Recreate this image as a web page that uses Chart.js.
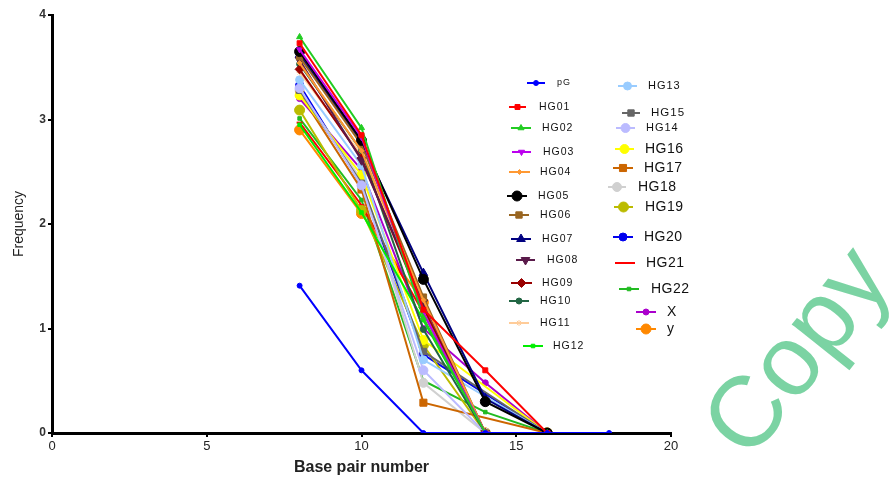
<!DOCTYPE html>
<html>
<head>
<meta charset="utf-8">
<script src="https://cdn.jsdelivr.net/npm/chart.js@4/dist/chart.umd.min.js"></script>
<style>
  html, body { margin: 0; padding: 0; background: #fff; }
  #wrap { width: 891px; height: 477px; position: relative; }
</style>
</head>
<body>
<div id="wrap"><canvas id="freq"></canvas></div>
<script>
//-------------------------------------------------------------------------------------------------------
// Base pair frequency per haplogroup
//-------------------------------------------------------------------------------------------------------
const BP_X = [8, 10, 12, 14, 16];
const PG_X = [8, 10, 12, 14, 16, 18];
const X_TICKS = [0, 5, 10, 15, 20];
const Y_TICKS = [0, 1, 2, 3, 4];

const pG   = [1.41, 0.60, 0, 0, 0, 0];
const HG01 = [3.73, 2.85, 1.18, 0.60, 0];
const HG02 = [3.79, 2.92, 1.10, 0, 0];
const HG03 = [3.67, 2.83, 1.15, 0, 0];
const HG04 = [3.54, 2.70, 1.27, 0, 0];
const HG05 = [3.65, 2.80, 1.47, 0.30, 0];
const HG06 = [3.60, 2.76, 1.30, 0, 0];
const HG07 = [3.62, 2.78, 1.53, 0.33, 0];
const HG08 = [3.57, 2.61, 1.25, 0, 0];
const HG09 = [3.48, 2.63, 1.20, 0, 0];
const HG10 = [3.53, 2.70, 0.99, 0, 0];
const HG11 = [3.45, 2.66, 1.22, 0, 0];
const HG12 = [2.95, 2.11, 1.08, 0, 0];
const HG13 = [3.38, 2.56, 0.70, null, 0];
const HG14 = [3.30, 2.37, 0.60, 0, 0];
const HG15 = [3.28, 2.39, 0.78, null, 0];
const HG16 = [3.23, 2.47, 0.89, null, 0];
const HG17 = [3.25, 2.33, 0.29, null, 0];
const HG18 = [3.28, 2.42, 0.48, 0, 0];
const HG19 = [3.09, 2.13, 0.84, 0, 0];
const HG20 = [3.33, 2.37, 0.75, null, 0];
const HG21 = [2.97, 2.18, 1.15, 0, 0];
const HG22 = [3.01, 2.23, 0.50, 0.20, 0];
const serX = [3.20, 2.52, 1.00, 0.48, 0];
const serY = [2.90, 2.10, 1.25, 0, 0];

/**
 * @name series_list
 * label, values, colour, marker, radius, rotation
 */
const series_list = [
    ['pG',   pG,   '#0000ff', 'circle',   2.5, 0],
    ['HG01', HG01, '#ff0000', 'rect',     3.5, 0],
    ['HG02', HG02, '#22cc22', 'triangle', 3.5, 0],
    ['HG03', HG03, '#bb00ee', 'triangle', 3.5, 180],
    ['HG04', HG04, '#ff9933', 'rectRot',  2.5, 0],
    ['HG05', HG05, '#000000', 'circle',   5,   0],
    ['HG06', HG06, '#996622', 'rect',     4.5, 0],
    ['HG07', HG07, '#000080', 'triangle', 5,   0],
    ['HG08', HG08, '#5a1a4a', 'triangle', 5,   180],
    ['HG09', HG09, '#990000', 'rectRot',  4.5, 0],
    ['HG10', HG10, '#226644', 'circle',   3,   0],
    ['HG11', HG11, '#ffcc99', 'star',     3,   0],
    ['HG12', HG12, '#00ee00', 'rect',     2.5, 0],
    ['HG13', HG13, '#99ccff', 'circle',   4,   0],
    ['HG14', HG14, '#bbbbff', 'circle',   4.5, 0],
    ['HG15', HG15, '#666666', 'rect',     4.5, 0],
    ['HG16', HG16, '#ffff00', 'circle',   4.5, 0],
    ['HG17', HG17, '#cc6600', 'rect',     5,   0],
    ['HG18', HG18, '#d0d0d0', 'circle',   4.5, 0],
    ['HG19', HG19, '#bbbb00', 'circle',   5,   0],
    ['HG20', HG20, '#0000ee', 'circle',   4,   0],
    ['HG21', HG21, '#ff0000', 'line',     3,   0],
    ['HG22', HG22, '#22bb22', 'rect',     2.5, 0],
    ['X',    serX, '#aa00cc', 'circle',   3,   0],
    ['y',    serY, '#ff8800', 'circle',   5,   0]
];

// legend slots: line start, line end, baseline y, text x, font size
const legend_slots = {
    'pG':   [527, 545, 83,  557, 9],
    'HG01': [509, 526, 107, 539, 10.5],
    'HG02': [511, 531, 128, 542, 10.5],
    'HG03': [512, 531, 152, 543, 10.5],
    'HG04': [509, 530, 172, 540, 10.5],
    'HG05': [507, 527, 196, 538, 10.5],
    'HG06': [509, 529, 215, 540, 10.5],
    'HG07': [511, 531, 239, 542, 10.5],
    'HG08': [516, 535, 260, 547, 10.5],
    'HG09': [511, 532, 283, 542, 10.5],
    'HG10': [509, 529, 301, 540, 10.5],
    'HG11': [509, 529, 323, 540, 10.5],
    'HG12': [523, 543, 346, 553, 10.5],
    'HG13': [618, 637, 86,  648, 11],
    'HG15': [622, 640, 113, 651, 11.5],
    'HG14': [616, 635, 128, 646, 11],
    'HG16': [615, 634, 149, 645, 14],
    'HG17': [613, 633, 168, 644, 14],
    'HG18': [608, 626, 187, 638, 14],
    'HG19': [614, 633, 207, 645, 14],
    'HG20': [613, 633, 237, 644, 14],
    'HG21': [615, 635, 263, 646, 14],
    'HG22': [619, 639, 289, 651, 14],
    'X':    [636, 656, 312, 667, 14],
    'y':    [636, 656, 329, 667, 14]
};

const datasets = series_list.map(([label, vals, color, style, r, rot]) => {
    const xs = label === 'pG' ? PG_X : BP_X;
    return {
        label: label,
        data: vals.map((v, i) => ({x: xs[i], y: v})),
        borderColor: color,
        backgroundColor: color,
        pointBackgroundColor: color,
        pointBorderColor: color,
        pointStyle: style,
        pointRadius: r,
        pointRotation: rot,
        pointBorderWidth: style === 'line' ? 2 : 1,
        borderWidth: 2,
        tension: 0,
        fill: false,
        spanGaps: true
    };
});

/*------------------------------------------------------*/
// hand placed legend, two loose columns
/*------------------------------------------------------*/
const looseLegend = {
    id: 'looseLegend',
    afterDraw(chart) {
        const ctx = chart.ctx;
        chart.data.datasets.forEach(ds => {
            const s = legend_slots[ds.label];
            if (!s) return;
            const [x0, x1, y, tx, size] = s;
            ctx.save();
            ctx.strokeStyle = ds.borderColor;
            ctx.lineWidth = 2;
            ctx.beginPath();
            ctx.moveTo(x0, y);
            ctx.lineTo(x1, y);
            ctx.stroke();
            ctx.fillStyle = ds.backgroundColor;
            ctx.strokeStyle = ds.borderColor;
            ctx.lineWidth = ds.pointBorderWidth;
            Chart.helpers.drawPoint(ctx, {
                pointStyle: ds.pointStyle,
                radius: ds.pointRadius,
                rotation: ds.pointRotation,
                borderWidth: ds.pointBorderWidth
            }, (x0 + x1) / 2, y);
            ctx.fillStyle = '#111';
            ctx.font = size + 'px "Liberation Sans", Arial, sans-serif';
            ctx.letterSpacing = size < 12 ? '1px' : '0.5px';
            ctx.textBaseline = 'middle';
            ctx.textAlign = 'left';
            ctx.fillText(ds.label, tx, y);
            ctx.restore();
        });
    }
};

/*------------------------------------------------------*/
// stamp across the lower right corner
/*------------------------------------------------------*/
const stamp = {
    id: 'stamp',
    afterDraw(chart) {
        const ctx = chart.ctx;
        ctx.save();
        ctx.translate(742, 472);
        ctx.rotate(-0.9);
        ctx.fillStyle = 'rgba(90, 200, 140, 0.8)';
        ctx.font = '100px "Liberation Sans", Arial, sans-serif';
        ctx.textBaseline = 'alphabetic';
        ctx.fillText('Copy', 12, 0);
        ctx.restore();
    }
};

const freq = new Chart(document.getElementById('freq'), {
    type: 'line',
    data: {datasets: datasets},
    plugins: [looseLegend, stamp],
    options: {
        responsive: true,
        maintainAspectRatio: false,
        animation: false,
        layout: {padding: {top: 15, right: 220, left: 0, bottom: 0}},
        plugins: {legend: {display: false}, tooltip: {enabled: false}},
        scales: {
            x: {
                type: 'linear',
                min: 0,
                max: 20,
                afterFit: s => { s.height = 44; },
                afterBuildTicks: s => { s.ticks = X_TICKS.map(v => ({value: v})); },
                border: {display: true, color: '#000', width: 3},
                grid: {display: true, drawOnChartArea: false, drawTicks: true, tickLength: 4, color: '#000', lineWidth: 2},
                ticks: {color: '#222', padding: 2, maxRotation: 0, font: {family: '"Liberation Sans", Arial', size: 13}},
                title: {
                    display: true,
                    text: 'Base pair number',
                    color: '#222',
                    padding: {top: 1, bottom: 0},
                    font: {family: '"Liberation Sans", Arial', size: 16, weight: 'bold'}
                }
            },
            y: {
                min: 0,
                max: 4,
                afterFit: s => { s.width = 52; },
                afterBuildTicks: s => { s.ticks = Y_TICKS.map(v => ({value: v})); },
                border: {display: true, color: '#000', width: 3},
                grid: {display: true, drawOnChartArea: false, drawTicks: true, tickLength: 4, color: '#000', lineWidth: 2},
                ticks: {color: '#333', padding: 2, font: {family: '"Liberation Sans", Arial', size: 12, weight: 'bold'}},
                title: {
                    display: true,
                    text: 'Frequency',
                    color: '#222',
                    padding: {top: 11, bottom: 0},
                    font: {family: '"Liberation Sans", Arial', size: 14}
                }
            }
        }
    }
});
</script>
</body>
</html>
